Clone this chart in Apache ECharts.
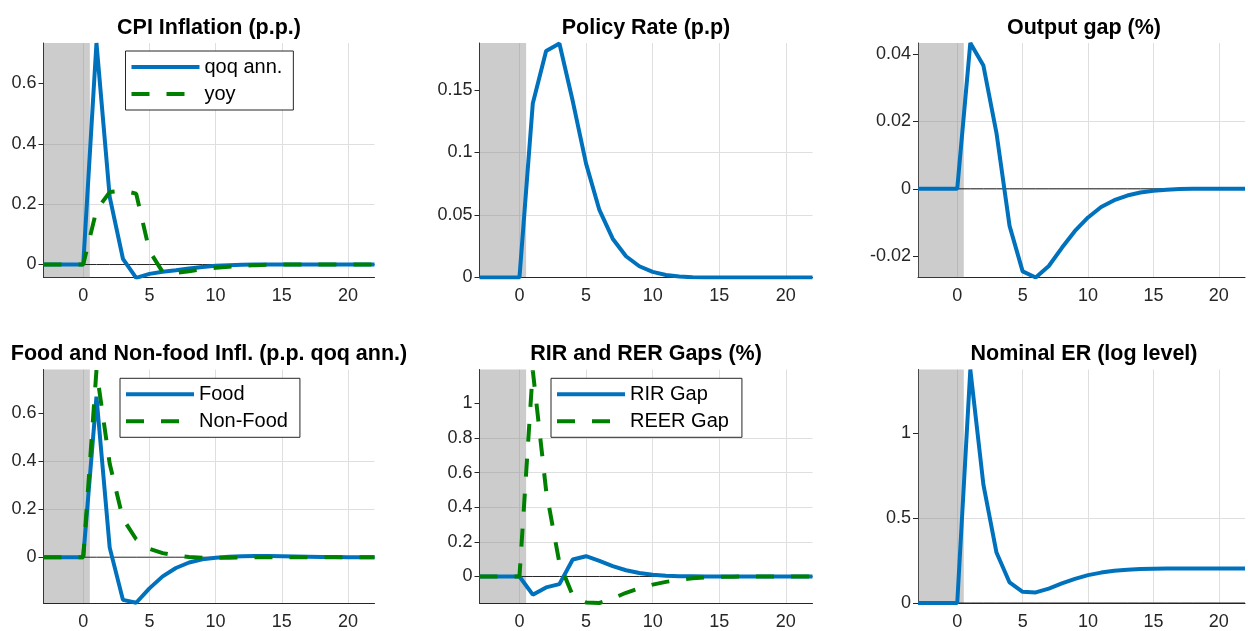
<!DOCTYPE html>
<html>
<head>
<meta charset="utf-8">
<script src="https://cdn.jsdelivr.net/npm/echarts@6/dist/echarts.min.js"></script>
<style>
html, body { margin: 0; background: #fff; }
#chart { width: 1248px; height: 631px; }
</style>
</head>
<body>
<div id="chart"></div>
<script>
// quarters after the shock
var periods = [-3, -2, -1, 0, 1, 2, 3, 4, 5, 6, 7, 8, 9, 10, 11, 12, 13, 14, 15, 16, 17, 18, 19, 20, 21, 22];

var cpiQoq = [0, 0, 0, 0, 0.734, 0.224, 0.019, -0.044, -0.031, -0.024, -0.019, -0.013, -0.008, -0.004, -0.002, -0.001, 0, 0, 0, 0, 0, 0, 0, 0, 0, 0];
var cpiYoy = [0, 0, 0, 0, 0.18, 0.24, 0.245, 0.235, 0.045, -0.025, -0.028, -0.022, -0.016, -0.011, -0.007, -0.004, -0.002, -0.001, 0, 0, 0, 0, 0, 0, 0, 0];
var policyRate = [0, 0, 0, 0, 0.139, 0.181, 0.187, 0.141, 0.091, 0.054, 0.031, 0.017, 0.009, 0.0045, 0.002, 0.0008, 0.0002, 0, 0, 0, 0, 0, 0, 0, 0, 0];
var outputGap = [0, 0, 0, 0, 0.0432, 0.0365, 0.0165, -0.011, -0.0245, -0.0263, -0.0229, -0.0175, -0.0125, -0.0085, -0.0054, -0.0034, -0.002, -0.0011, -0.0006, -0.0003, -0.0001, 0, 0, 0, 0, 0];
var foodInfl = [0, 0, 0, 0, 0.67, 0.04, -0.178, -0.19, -0.13, -0.08, -0.045, -0.022, -0.009, -0.002, 0.002, 0.004, 0.005, 0.005, 0.004, 0.003, 0.002, 0.001, 0.001, 0, 0, 0];
var nonFoodInfl = [0, 0, 0, 0, 0.78, 0.39, 0.16, 0.075, 0.035, 0.017, 0.007, 0.001, -0.002, -0.003, -0.002, -0.001, 0, 0, 0, 0, 0, 0, 0, 0, 0, 0];
var rirGap = [0, 0, 0, 0, -0.105, -0.063, -0.044, 0.098, 0.117, 0.09, 0.06, 0.036, 0.02, 0.01, 0.005, 0.002, 0.001, 0, 0, 0, 0, 0, 0, 0, 0, 0];
var reerGap = [0, 0, 0, 0, 1.19, 0.497, 0.077, -0.11, -0.15, -0.153, -0.127, -0.094, -0.068, -0.047, -0.031, -0.019, -0.01, -0.005, -0.002, -0.001, 0, 0, 0, 0, 0, 0];
var nominalER = [0, 0, 0, 0, 1.375, 0.697, 0.297, 0.121, 0.066, 0.0625, 0.085, 0.115, 0.142, 0.164, 0.179, 0.19, 0.196, 0.2, 0.202, 0.203, 0.203, 0.203, 0.203, 0.203, 0.203, 0.203];

var shadeRange = [-3, 0.5];

var BLUE = '#0072BD';
var GREEN = '#008000';
var FONT = 'Liberation Sans, Arial, Helvetica, sans-serif';
// legend line samples, 68 x 4 (the zero-width stroke at x=68 keeps the box full width)
var SOLID_ICON = 'path://M0,0h68v4h-68z';
var DASH_ICON = 'path://M0,0h18v4h-18z M35,0h18v4h-18z M68,0v4';

var colLeft = [43.5, 479.5, 918];
var colWidth = [331, 333, 332];
var rowTop = [43, 369.5];
var rowHeight = 234.5;

var panels = [
	{title: 'CPI Inflation (p.p.)', col: 0, row: 0, yMin: -0.043, yMax: 0.734, yStep: 0.2,
		lines: [{name: 'qoq ann.', values: cpiQoq, color: BLUE}, {name: 'yoy', values: cpiYoy, color: GREEN, dashed: true}],
		legend: {left: 125.5, top: 51, padRight: 11}},
	{title: 'Policy Rate (p.p)', col: 1, row: 0, yMin: 0, yMax: 0.1874, yStep: 0.05,
		lines: [{name: 'Policy Rate', values: policyRate, color: BLUE}]},
	{title: 'Output gap (%)', col: 2, row: 0, yMin: -0.0263, yMax: 0.0432, yStep: 0.02,
		lines: [{name: 'Output gap', values: outputGap, color: BLUE}]},
	{title: 'Food and Non-food Infl. (p.p. qoq ann.)', col: 0, row: 1, yMin: -0.191, yMax: 0.783, yStep: 0.2,
		lines: [{name: 'Food', values: foodInfl, color: BLUE}, {name: 'Non-Food', values: nonFoodInfl, color: GREEN, dashed: true}],
		legend: {left: 120, top: 378.3, padRight: 12}},
	{title: 'RIR and RER Gaps (%)', col: 1, row: 1, yMin: -0.153, yMax: 1.195, yStep: 0.2,
		lines: [{name: 'RIR Gap', values: rirGap, color: BLUE}, {name: 'REER Gap', values: reerGap, color: GREEN, dashed: true}],
		legend: {left: 551, top: 378.3, padRight: 13}},
	{title: 'Nominal ER (log level)', col: 2, row: 1, yMin: 0, yMax: 1.375, yStep: 0.5,
		lines: [{name: 'Nominal ER', values: nominalER, color: BLUE}]}
];

function pairs(values) {
	return periods.map(function (p, i) { return [p, values[i]]; });
}

function isStep(v, step) {
	var k = v / step;
	return Math.abs(k - Math.round(k)) < 1e-6;
}

function stepFormatter(step) {
	return function (v) {
		if (!isStep(v, step)) return '';
		return String(parseFloat(v.toFixed(6)));
	};
}

function stepValues(min, max, step) {
	var out = [];
	for (var k = Math.ceil(min / step - 1e-9); k * step <= max + 1e-9; k++) {
		out.push(parseFloat((k * step).toFixed(6)));
	}
	return out;
}

var grids = [], xAxes = [], yAxes = [], titles = [], legends = [], series = [];

panels.forEach(function (p, i) {
	var left = colLeft[p.col], top = rowTop[p.row];
	grids.push({left: left, top: top, width: colWidth[p.col], height: rowHeight, containLabel: false});

	titles.push({
		text: p.title,
		left: left + colWidth[p.col] / 2,
		top: p.row === 0 ? 17.5 : 343.5,
		textAlign: 'center',
		padding: 0,
		textStyle: {fontFamily: FONT, fontSize: 21.5, fontWeight: 'bold', color: '#000'}
	});

	xAxes.push({
		gridIndex: i, type: 'value', min: shadeRange[0], max: 22,
		minInterval: 5, maxInterval: 5,
		axisLine: {show: true, onZero: false, lineStyle: {color: '#262626', width: 1}},
		axisTick: {show: false},
		axisLabel: {fontFamily: FONT, fontSize: 18, color: '#262626', margin: 10, formatter: stepFormatter(5)},
		splitLine: {show: true, showMinLine: false, showMaxLine: false, lineStyle: {color: '#dfdfdf', width: 1}}
	});

	yAxes.push({
		gridIndex: i, type: 'value', min: p.yMin, max: p.yMax,
		minInterval: p.yStep, maxInterval: p.yStep,
		axisLine: {show: true, onZero: false, lineStyle: {color: '#262626', width: 1}},
		axisTick: {show: true, length: 5, customValues: stepValues(p.yMin, p.yMax, p.yStep), lineStyle: {color: '#262626'}},
		axisLabel: {fontFamily: FONT, fontSize: 18, color: '#262626', margin: 7, formatter: stepFormatter(p.yStep)},
		splitLine: {show: true, showMinLine: false, showMaxLine: false, lineStyle: {color: '#dfdfdf', width: 1}}
	});

	// zero line + pre-shock shading
	series.push({
		name: 'zero' + i, type: 'line', xAxisIndex: i, yAxisIndex: i,
		data: periods.map(function (x) { return [x, 0]; }),
		symbol: 'none', silent: true, z: 1,
		lineStyle: {color: '#262626', width: 1},
		markArea: {
			silent: true,
			itemStyle: {color: 'rgba(128,128,128,0.4)'},
			data: [[{xAxis: shadeRange[0]}, {xAxis: shadeRange[1]}]]
		}
	});

	p.lines.forEach(function (l) {
		series.push({
			name: l.name, type: 'line', xAxisIndex: i, yAxisIndex: i,
			data: pairs(l.values),
			symbol: 'none', showSymbol: false, z: 3,
			color: l.color,
			lineStyle: {color: l.color, width: 4, type: l.dashed ? [18, 17] : 'solid'}
		});
	});

	if (p.legend) {
		legends.push({
			data: p.lines.map(function (l) {
				return {name: l.name, icon: l.dashed ? DASH_ICON : SOLID_ICON};
			}),
			orient: 'vertical',
			left: p.legend.left, top: p.legend.top,
			padding: [5, p.legend.padRight, 5, 6],
			itemGap: 5, itemWidth: 68, itemHeight: 4,
			backgroundColor: '#fff',
			borderColor: '#262626', borderWidth: 1, borderRadius: 0,
			selectedMode: false,
			textStyle: {fontFamily: FONT, fontSize: 20, color: '#000', lineHeight: 22}
		});
	}
});

var chart = echarts.init(document.getElementById('chart'));
chart.setOption({
	animation: false,
	backgroundColor: '#fff',
	textStyle: {fontFamily: FONT},
	title: titles,
	legend: legends,
	grid: grids,
	xAxis: xAxes,
	yAxis: yAxes,
	series: series
});
</script>
</body>
</html>
